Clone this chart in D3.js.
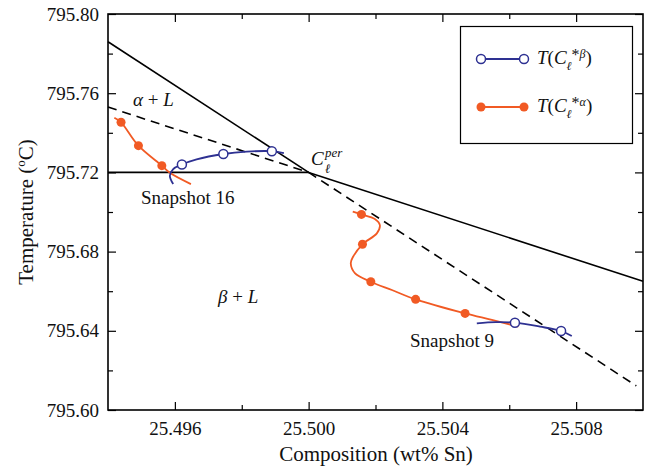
<!DOCTYPE html>
<html>
<head>
<meta charset="utf-8">
<script src="https://cdn.jsdelivr.net/npm/d3@7"></script>
<style>
  body { margin: 0; background: #fff; }
  svg { font-family: "Liberation Serif", "DejaVu Serif", serif; }
</style>
</head>
<body>
<svg id="chart" width="652" height="473"></svg>
<script>
// axis ticks
var xTicks = [25.496, 25.500, 25.504, 25.508];
var xMinor = [25.498, 25.502, 25.506];
var yTicks = [795.60, 795.64, 795.68, 795.72, 795.76, 795.80];
var yMinor = [795.62, 795.66, 795.70, 795.74, 795.78];

// liquidus / peritectic lines
var solidA = [[25.494, 795.786], [25.500, 795.720]];
var dashA = [[25.500, 795.720], [25.5098, 795.6122]];
var solidB = [[25.500, 795.720], [25.510, 795.665]];
var dashB = [[25.494, 795.753], [25.500, 795.720]];
var isotherm = [[25.494, 795.720], [25.500, 795.720]];

// snapshot 16
var red16 = [[25.49419, 795.7476], [25.49439, 795.7453], [25.49491, 795.7335], [25.49561, 795.7234],
             [25.49585, 795.7198], [25.49648, 795.7141]];
var red16Pts = [[25.49439, 795.7453], [25.49491, 795.7335], [25.49561, 795.7234]];
var blue16 = [[25.49595, 795.7141], [25.49585, 795.7183], [25.49595, 795.7217], [25.49621, 795.7240],
              [25.49665, 795.7266], [25.49745, 795.7293], [25.49815, 795.7305], [25.49890, 795.7307],
              [25.49926, 795.7297]];
var blue16Pts = [[25.49621, 795.7240], [25.49745, 795.7293], [25.49890, 795.7307]];

// snapshot 9
var red9 = [[25.50132, 795.7002], [25.50158, 795.6988], [25.50198, 795.6965], [25.50213, 795.6934],
            [25.50204, 795.6892], [25.50161, 795.6837], [25.50133, 795.6774], [25.50126, 795.6741],
            [25.50139, 795.6690], [25.50186, 795.6648], [25.50249, 795.6606], [25.50320, 795.6559],
            [25.50468, 795.6488], [25.50548, 795.6455], [25.50627, 795.6421]];
var red9Pts = [[25.50158, 795.6988], [25.50161, 795.6837], [25.50186, 795.6648], [25.50320, 795.6559],
               [25.50468, 795.6488]];
var blue9 = [[25.50503, 795.6438], [25.50560, 795.6444], [25.50617, 795.6441], [25.50692, 795.6421],
             [25.50755, 795.6399], [25.50787, 795.6374]];
var blue9Pts = [[25.50617, 795.6441], [25.50755, 795.6399]];

var blue = "#2e3192";
var red = "#f15a24";

var svg = d3.select("#chart");
var mLeft = 108, mRight = 643, mTop = 14, mBottom = 410;

var x = d3.scaleLinear().domain([25.494, 25.510]).range([mLeft, mRight]);
var y = d3.scaleLinear().domain([795.60, 795.80]).range([mBottom, mTop]);

// ticks (inward on all sides)
function tickAxis(axis, tr, vals, size, labels) {
    var g = svg.append("g").attr("transform", tr)
        .call(axis.tickValues(vals).tickSizeInner(size).tickSizeOuter(0).tickPadding(12)
            .tickFormat(labels ? d3.format(labels) : ""));
    g.attr("font-family", null).attr("font-size", null);
    g.select(".domain").remove();
    g.selectAll("line").attr("stroke", "#000").attr("stroke-width", 1.2);
    g.selectAll("text").attr("font-size", "19px").attr("fill", "#111");
    return g;
}
tickAxis(d3.axisBottom(x), "translate(0," + mBottom + ")", xTicks, -8, ".3f");
tickAxis(d3.axisBottom(x), "translate(0," + mBottom + ")", xMinor, -5, null);
tickAxis(d3.axisTop(x), "translate(0," + mTop + ")", xTicks, -8, null);
tickAxis(d3.axisTop(x), "translate(0," + mTop + ")", xMinor, -5, null);
var ya = tickAxis(d3.axisLeft(y), "translate(" + mLeft + ",0)", yTicks, -8, ".2f");
ya.selectAll("text").attr("dx", 3);
tickAxis(d3.axisLeft(y), "translate(" + mLeft + ",0)", yMinor, -5, null);
tickAxis(d3.axisRight(y), "translate(" + mRight + ",0)", yTicks, -8, null);
tickAxis(d3.axisRight(y), "translate(" + mRight + ",0)", yMinor, -5, null);

svg.append("rect")
    .attr("x", mLeft).attr("y", mTop)
    .attr("width", mRight - mLeft).attr("height", mBottom - mTop)
    .attr("fill", "none").attr("stroke", "#000").attr("stroke-width", 1.6);

var line = d3.line().x(d => x(d[0])).y(d => y(d[1]));
var smooth = d3.line().x(d => x(d[0])).y(d => y(d[1])).curve(d3.curveCatmullRom.alpha(0.5));

[solidA, solidB, isotherm].forEach(function(d) {
    svg.append("path").attr("d", line(d)).attr("fill", "none")
        .attr("stroke", "#000").attr("stroke-width", 1.6);
});
[dashA, dashB].forEach(function(d) {
    svg.append("path").attr("d", line(d)).attr("fill", "none")
        .attr("stroke", "#000").attr("stroke-width", 1.6).attr("stroke-dasharray", "9,6");
});

// curves
function curve(data, pts, color, open) {
    svg.append("path").attr("d", smooth(data)).attr("fill", "none")
        .attr("stroke", color).attr("stroke-width", 1.8);
    svg.append("g").selectAll("circle").data(pts).join("circle")
        .attr("cx", d => x(d[0])).attr("cy", d => y(d[1]))
        .attr("r", 4.5)
        .attr("fill", open ? "#fff" : color)
        .attr("stroke", color).attr("stroke-width", open ? 1.5 : 0);
}
curve(red16, red16Pts, red, false);
curve(blue16, blue16Pts, blue, true);
curve(red9, red9Pts, red, false);
curve(blue9, blue9Pts, blue, true);

// labels
function label(px, py, parts, size) {
    var t = svg.append("text").attr("x", px).attr("y", py)
        .attr("font-size", (size || 19) + "px").attr("fill", "#111");
    parts.forEach(function(p) {
        var s = t.append("tspan").text(p.t);
        if (p.i) s.attr("font-style", "italic");
        if (p.dy) s.attr("dy", p.dy);
        if (p.dx) s.attr("dx", p.dx);
        if (p.s) s.attr("font-size", p.s + "px");
    });
    return t;
}
label(133, 106, [{t: "α", i: 1}, {t: " + "}, {t: "L", i: 1}]);
label(218, 303, [{t: "β", i: 1}, {t: " + "}, {t: "L", i: 1}]);
label(141, 204, [{t: "Snapshot 16"}]);
label(410, 347, [{t: "Snapshot 9"}]);
label(311, 165, [{t: "C", i: 1}]);
label(325, 157, [{t: "per", i: 1}], 13);
label(325, 173, [{t: "ℓ", i: 1}], 13);

// axis titles
svg.append("text").attr("x", 376).attr("y", 461).attr("text-anchor", "middle")
    .attr("font-size", "21px").attr("fill", "#111").text("Composition (wt% Sn)");
var yt = svg.append("text").attr("transform", "translate(33,212) rotate(-90)")
    .attr("text-anchor", "middle").attr("font-size", "21px").attr("fill", "#111");
yt.append("tspan").text("Temperature (");
yt.append("tspan").text("o").attr("font-size", "13px").attr("dy", -8);
yt.append("tspan").text("C)").attr("dy", 8);

// legend
svg.append("rect").attr("x", 460.5).attr("y", 26.5).attr("width", 172).attr("height", 117)
    .attr("fill", "#fff").attr("stroke", "#000").attr("stroke-width", 1.2);
var legend = [{c: blue, open: true, g: "β", yy: 59}, {c: red, open: false, g: "α", yy: 107}];
legend.forEach(function(d) {
    svg.append("line").attr("x1", 481).attr("x2", 524).attr("y1", d.yy).attr("y2", d.yy)
        .attr("stroke", d.c).attr("stroke-width", 1.8);
    [481, 524].forEach(function(cx) {
        svg.append("circle").attr("cx", cx).attr("cy", d.yy).attr("r", 4.5)
            .attr("fill", d.open ? "#fff" : d.c).attr("stroke", d.c).attr("stroke-width", d.open ? 1.5 : 0);
    });
    label(537, d.yy + 5, [{t: "T", i: 1}, {t: "("}, {t: "C", i: 1},
        {t: "ℓ", i: 1, s: 12, dy: 6}, {t: "*", s: 16, dy: -10}, {t: d.g, i: 1, s: 12, dy: -2},
        {t: ")", dy: 6}]);
});
</script>
</body>
</html>
